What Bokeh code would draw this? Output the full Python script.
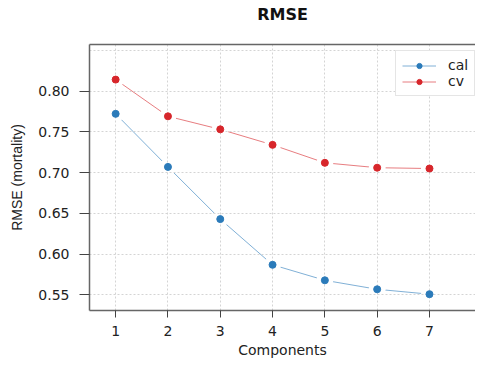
from bokeh.plotting import figure
from bokeh.models import (Range1d, FixedTicker, Legend, LegendItem, LinearAxis,
                          PrintfTickFormatter)
from bokeh.embed import file_html
from bokeh.resources import INLINE

components = [1, 2, 3, 4, 5, 6, 7]
cal = [0.772, 0.707, 0.643, 0.587, 0.568, 0.557, 0.551]
cv = [0.814, 0.769, 0.753, 0.734, 0.712, 0.706, 0.705]
y_ticks = [0.55, 0.60, 0.65, 0.70, 0.75, 0.80]
y_grid = [0.55, 0.60, 0.65, 0.70, 0.75, 0.80, 0.85]
x_grid = [1, 2, 3, 4, 5, 6, 7, 8]
title_text = "RMSE"

BLUE = "#2b7bba"
RED = "#d7262b"
FONT = "DejaVu Sans"
FONT_N = "Liberation Sans"

p = figure(width=475, height=360, output_backend="svg", toolbar_location=None,
           x_range=Range1d(0.5, 7.88), y_range=Range1d(0.531, 0.857),
           min_border_left=89, min_border_right=0, min_border_top=44,
           min_border_bottom=50)

p.outline_line_color = None
p.background_fill_color = "white"
p.border_fill_color = "white"

for ax in (p.xaxis[0], p.yaxis[0]):
    ax.axis_line_color = "#666666"
    ax.axis_line_width = 1.5
    ax.major_tick_line_color = "#444444"
    ax.major_tick_in = 0
    ax.minor_tick_line_color = None
    ax.major_label_text_font = FONT
    ax.major_label_text_font_size = "14px"
    ax.major_label_text_color = "#222222"
    ax.axis_label_text_font_style = "normal"
    ax.axis_label_text_color = "#222222"

p.xaxis.ticker = FixedTicker(ticks=components)
p.xaxis.major_tick_out = 7
p.xaxis.major_label_standoff = 8
p.xaxis.axis_label = "Components"
p.xaxis.axis_label_text_font = FONT
p.xaxis.axis_label_text_font_size = "14px"
p.xaxis.axis_label_standoff = 3

p.yaxis.ticker = FixedTicker(ticks=y_ticks)
p.yaxis.formatter = PrintfTickFormatter(format="%.2f")
p.yaxis.major_tick_out = 10
p.yaxis.major_label_standoff = 10
p.yaxis.axis_label = "RMSE (mortality)"
p.yaxis.axis_label_text_font = FONT_N
p.yaxis.axis_label_text_font_size = "14px"
p.yaxis.axis_label_standoff = 10

# top frame line, carrying the chart title as its label
top = LinearAxis(axis_line_color="#666666", axis_line_width=1.5,
                 major_tick_line_color=None, minor_tick_line_color=None,
                 major_tick_out=0, major_tick_in=0, major_label_standoff=0,
                 major_label_text_font_size="0px", ticker=FixedTicker(ticks=[]),
                 axis_label=title_text, axis_label_text_font=FONT,
                 axis_label_text_font_size="16px", axis_label_text_font_style="bold",
                 axis_label_text_color="#111111", axis_label_standoff=21)
p.add_layout(top, "above")

p.xgrid.ticker = FixedTicker(ticks=x_grid)
p.ygrid.ticker = FixedTicker(ticks=y_grid)
for g in (p.xgrid[0], p.ygrid[0]):
    g.grid_line_color = "#d4d4d4"
    g.grid_line_dash = "2 2"
    g.grid_line_width = 1

l_cal = p.line(components, cal, line_color=BLUE, line_width=1, line_alpha=0.6,
               level="image")
p.scatter(components, cal, size=17, fill_color="white", line_color=None, level="image")
s_cal = p.scatter(components, cal, size=7, fill_color=BLUE, line_color=BLUE)
l_cv = p.line(components, cv, line_color=RED, line_width=1, line_alpha=0.6,
              level="image")
p.scatter(components, cv, size=17, fill_color="white", line_color=None, level="image")
s_cv = p.scatter(components, cv, size=7, fill_color=RED, line_color=RED)

legend = Legend(items=[LegendItem(label="cal", renderers=[l_cal, s_cal]),
                       LegendItem(label="cv", renderers=[l_cv, s_cv])],
                location=(306, 214), orientation="vertical",
                border_line_color="#cccccc", border_line_width=1.5,
                background_fill_color="white", background_fill_alpha=1,
                label_text_font=FONT, label_text_font_size="14px",
                label_text_color="#222222",
                glyph_width=34, glyph_height=13, label_standoff=12,
                padding=6, spacing=0, margin=0, label_height=13)
p.add_layout(legend, "center")

open("out.html", "w").write(file_html(p, INLINE))
